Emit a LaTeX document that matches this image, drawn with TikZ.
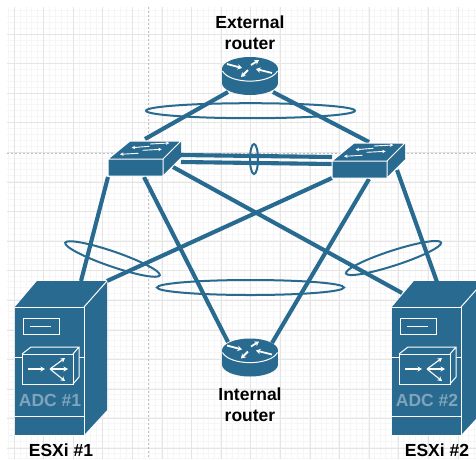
\documentclass[tikz,border=0pt]{standalone}
\usepackage{fontspec}
\setmainfont{Liberation Sans}
\usetikzlibrary{arrows.meta,shapes.geometric}
\definecolor{ink}{HTML}{296B90}
\definecolor{adc}{HTML}{7FA4BC}
\tikzset{
  minorgrid/.style={draw=black!3.5,line width=.6pt},
  majorgrid/.style={draw=black!10,line width=.7pt},
  guide/.style={draw=black!25,line width=.7pt,dash pattern=on 2pt off 2pt},
  link/.style={draw=ink,line width=4.1pt},
  bundle/.style={ellipse,draw=ink,line width=2pt,inner sep=0pt,fill=none},
  body/.style={fill=ink,draw=none},
  edge white/.style={draw=white,line width=1pt},
  mini/.style={draw=white,line width=1.1pt,-{Stealth[length=4.5pt,width=5pt]}},
  smalla/.style={draw=white,line width=.9pt,-{Stealth[length=3.5pt,width=3.5pt]}},
  fat/.style={draw=white,line width=1.8pt,-{Stealth[length=4.5pt,width=5.5pt]}},
  lbl/.style={font=\fontsize{17.5}{21}\selectfont\bfseries,align=center,text=black,inner sep=0pt},
  adclbl/.style={font=\fontsize{17.5}{19}\selectfont\bfseries,text=adc,inner sep=0pt},
}
\newcommand{\routericon}[2]{%
  \begin{scope}[shift={(#1,#2)}]
    \fill[ink] (-28,0) rectangle (28,14);
    \fill[ink] (0,14) ellipse[x radius=28,y radius=12];
    \fill[ink] (0,0) ellipse[x radius=28,y radius=12];
    \draw[edge white] (-27.5,2) .. controls (-20,15.5) and (20,15.5) .. (27.5,2);
    \draw[fat] (-23,-5) -- (-8,-1);
    \draw[fat] (22,4) -- (6,0);
    \draw[fat] (1,-4) -- (9,-9);
    \draw[fat] (-2,1) -- (-9,8);
  \end{scope}}
\newcommand{\switchicon}[2]{%
  \begin{scope}[shift={(#1,#2)}]
    \path[body] (0,0) -- (22,-18) -- (73,-18) -- (73,-1) -- (55,17) -- (0,17) -- cycle;
    \draw[edge white] (0,0) -- (22,-18) -- (73,-18) -- (55,0) -- cycle;
    \draw[edge white] (55,0) -- (55,17) (0,17) -- (55,17) (55,17) -- (73,-1) (0,0) -- (0,17);
    \draw[smalla] (41.3,-12.7) -- (23.7,-11.3);
    \draw[smalla] (42,-15) -- (61.3,-16);
    \draw[smalla] (30.3,-5.7) -- (12,-4.7);
    \draw[smalla] (34.7,-8.7) -- (53.7,-9.7);
  \end{scope}}
\newcommand{\servericon}[2]{%
  \begin{scope}[shift={(#1,0)}]
    \path[body] (15,307) -- (37,281) -- (107,281) -- (107,410) -- (84,435) -- (15,435) -- cycle;
    \draw[edge white] (15,416) -- (84,416);
    \draw[edge white] (84,307) -- (107,281);
    \draw[edge white] (15,435) -- (84,435) -- (84,307) -- (15,307);
    \draw[edge white] (15,357) -- (22,357) (79,357) -- (84,357);
    \draw[edge white] (23,318) rectangle (59,334);
    \draw[edge white] (30,326) -- (51,326);
    \draw[edge white] (22,354) rectangle (73,384);
    \draw[edge white] (22,354) -- (31,347) -- (79,347) -- (79,377) -- (73,384) (73,354) -- (79,347);
    \draw[mini] (28,369) -- (45,369);
    \draw[mini] (50,369) -- (65,358);
    \draw[mini] (50,369) -- (68,369);
    \draw[mini] (50,369) -- (65,381);
    \node[adclbl] (adc#2) at (50,400) {ADC \##2};
  \end{scope}}
\begin{document}
\begin{tikzpicture}[x=1pt,y=-1pt]
  \useasboundingbox (0,0) rectangle (476,459);
  \clip (0,0) rectangle (476,459);
  \fill[white] (0,0) rectangle (476,459);
  % grid
  \foreach \x in {8.1,14,...,476} \draw[minorgrid] (\x,7) -- (\x,459);
  \foreach \y in {10.3,16.2,...,459} \draw[minorgrid] (7,\y) -- (476,\y);
  \foreach \x in {14,43.6,...,476} \draw[majorgrid] (\x,7) -- (\x,459);
  \foreach \y in {34,63.6,...,459} \draw[majorgrid] (7,\y) -- (476,\y);
  \draw[guide] (148,7) -- (148,459);
  \draw[guide] (7,153) -- (476,153);
  % connector ends
  \coordinate (extA) at (228,92);
  \coordinate (extB) at (273,92);
  \coordinate (swlT) at (145,139);
  \coordinate (swrT) at (369,142);
  \coordinate (swlA) at (181,155);
  \coordinate (swlB) at (181,162);
  \coordinate (swrA) at (332,157);
  \coordinate (swrB) at (332,164);
  \coordinate (swlOut) at (108,177);
  \coordinate (swlIn) at (144,177);
  \coordinate (swlFar) at (173,167);
  \coordinate (swrFar) at (332,178);
  \coordinate (swrIn) at (369,179);
  \coordinate (swrOut) at (397,170);
  \coordinate (srvaT) at (81,281);
  \coordinate (srvaC) at (107,281);
  \coordinate (srvbC) at (402,293);
  \coordinate (srvbT) at (437,282);
  \coordinate (intA) at (228,342);
  \coordinate (intB) at (272,343);
  % links
  \draw[link] (extA) -- (swlT);
  \draw[link] (extB) -- (swrT);
  \draw[link] (swlA) -- (swrA);
  \draw[link] (swlB) -- (swrB);
  \draw[link] (swlOut) -- (srvaT);
  \draw[link] (swlIn) -- (intA);
  \draw[link] (swlFar) -- (srvbC);
  \draw[link] (swrFar) -- (srvaC);
  \draw[link] (swrIn) -- (intB);
  \draw[link] (swrOut) -- (srvbT);
  % bundles
  \node[bundle,minimum width=209pt,minimum height=15pt] (lagExt) at (250.5,110.7) {};
  \node[bundle,minimum width=8pt,minimum height=30pt] (lagIsl) at (254,159) {};
  \node[bundle,minimum width=187pt,minimum height=15pt] (lagInt) at (250.5,287.5) {};
  \node[bundle,minimum width=100pt,minimum height=15pt,rotate=-19] (lagA) at (112.5,259) {};
  \node[bundle,minimum width=100pt,minimum height=15pt,rotate=18] (lagB) at (393.5,258) {};
  % icons
  \routericon{250}{69}
  \routericon{250}{350.5}
  \switchicon{108}{159}
  \switchicon{332}{161}
  \servericon{0}{1}
  \servericon{377}{2}
  % labels
  \node[lbl] (extLbl) at (250,33) {External\\router};
  \node[lbl] (intLbl) at (250,404.5) {Internal\\router};
  \node[lbl] (esx1) at (61,450) {ESXi \#1};
  \node[lbl] (esx2) at (437,450) {ESXi \#2};
\end{tikzpicture}
\end{document}
